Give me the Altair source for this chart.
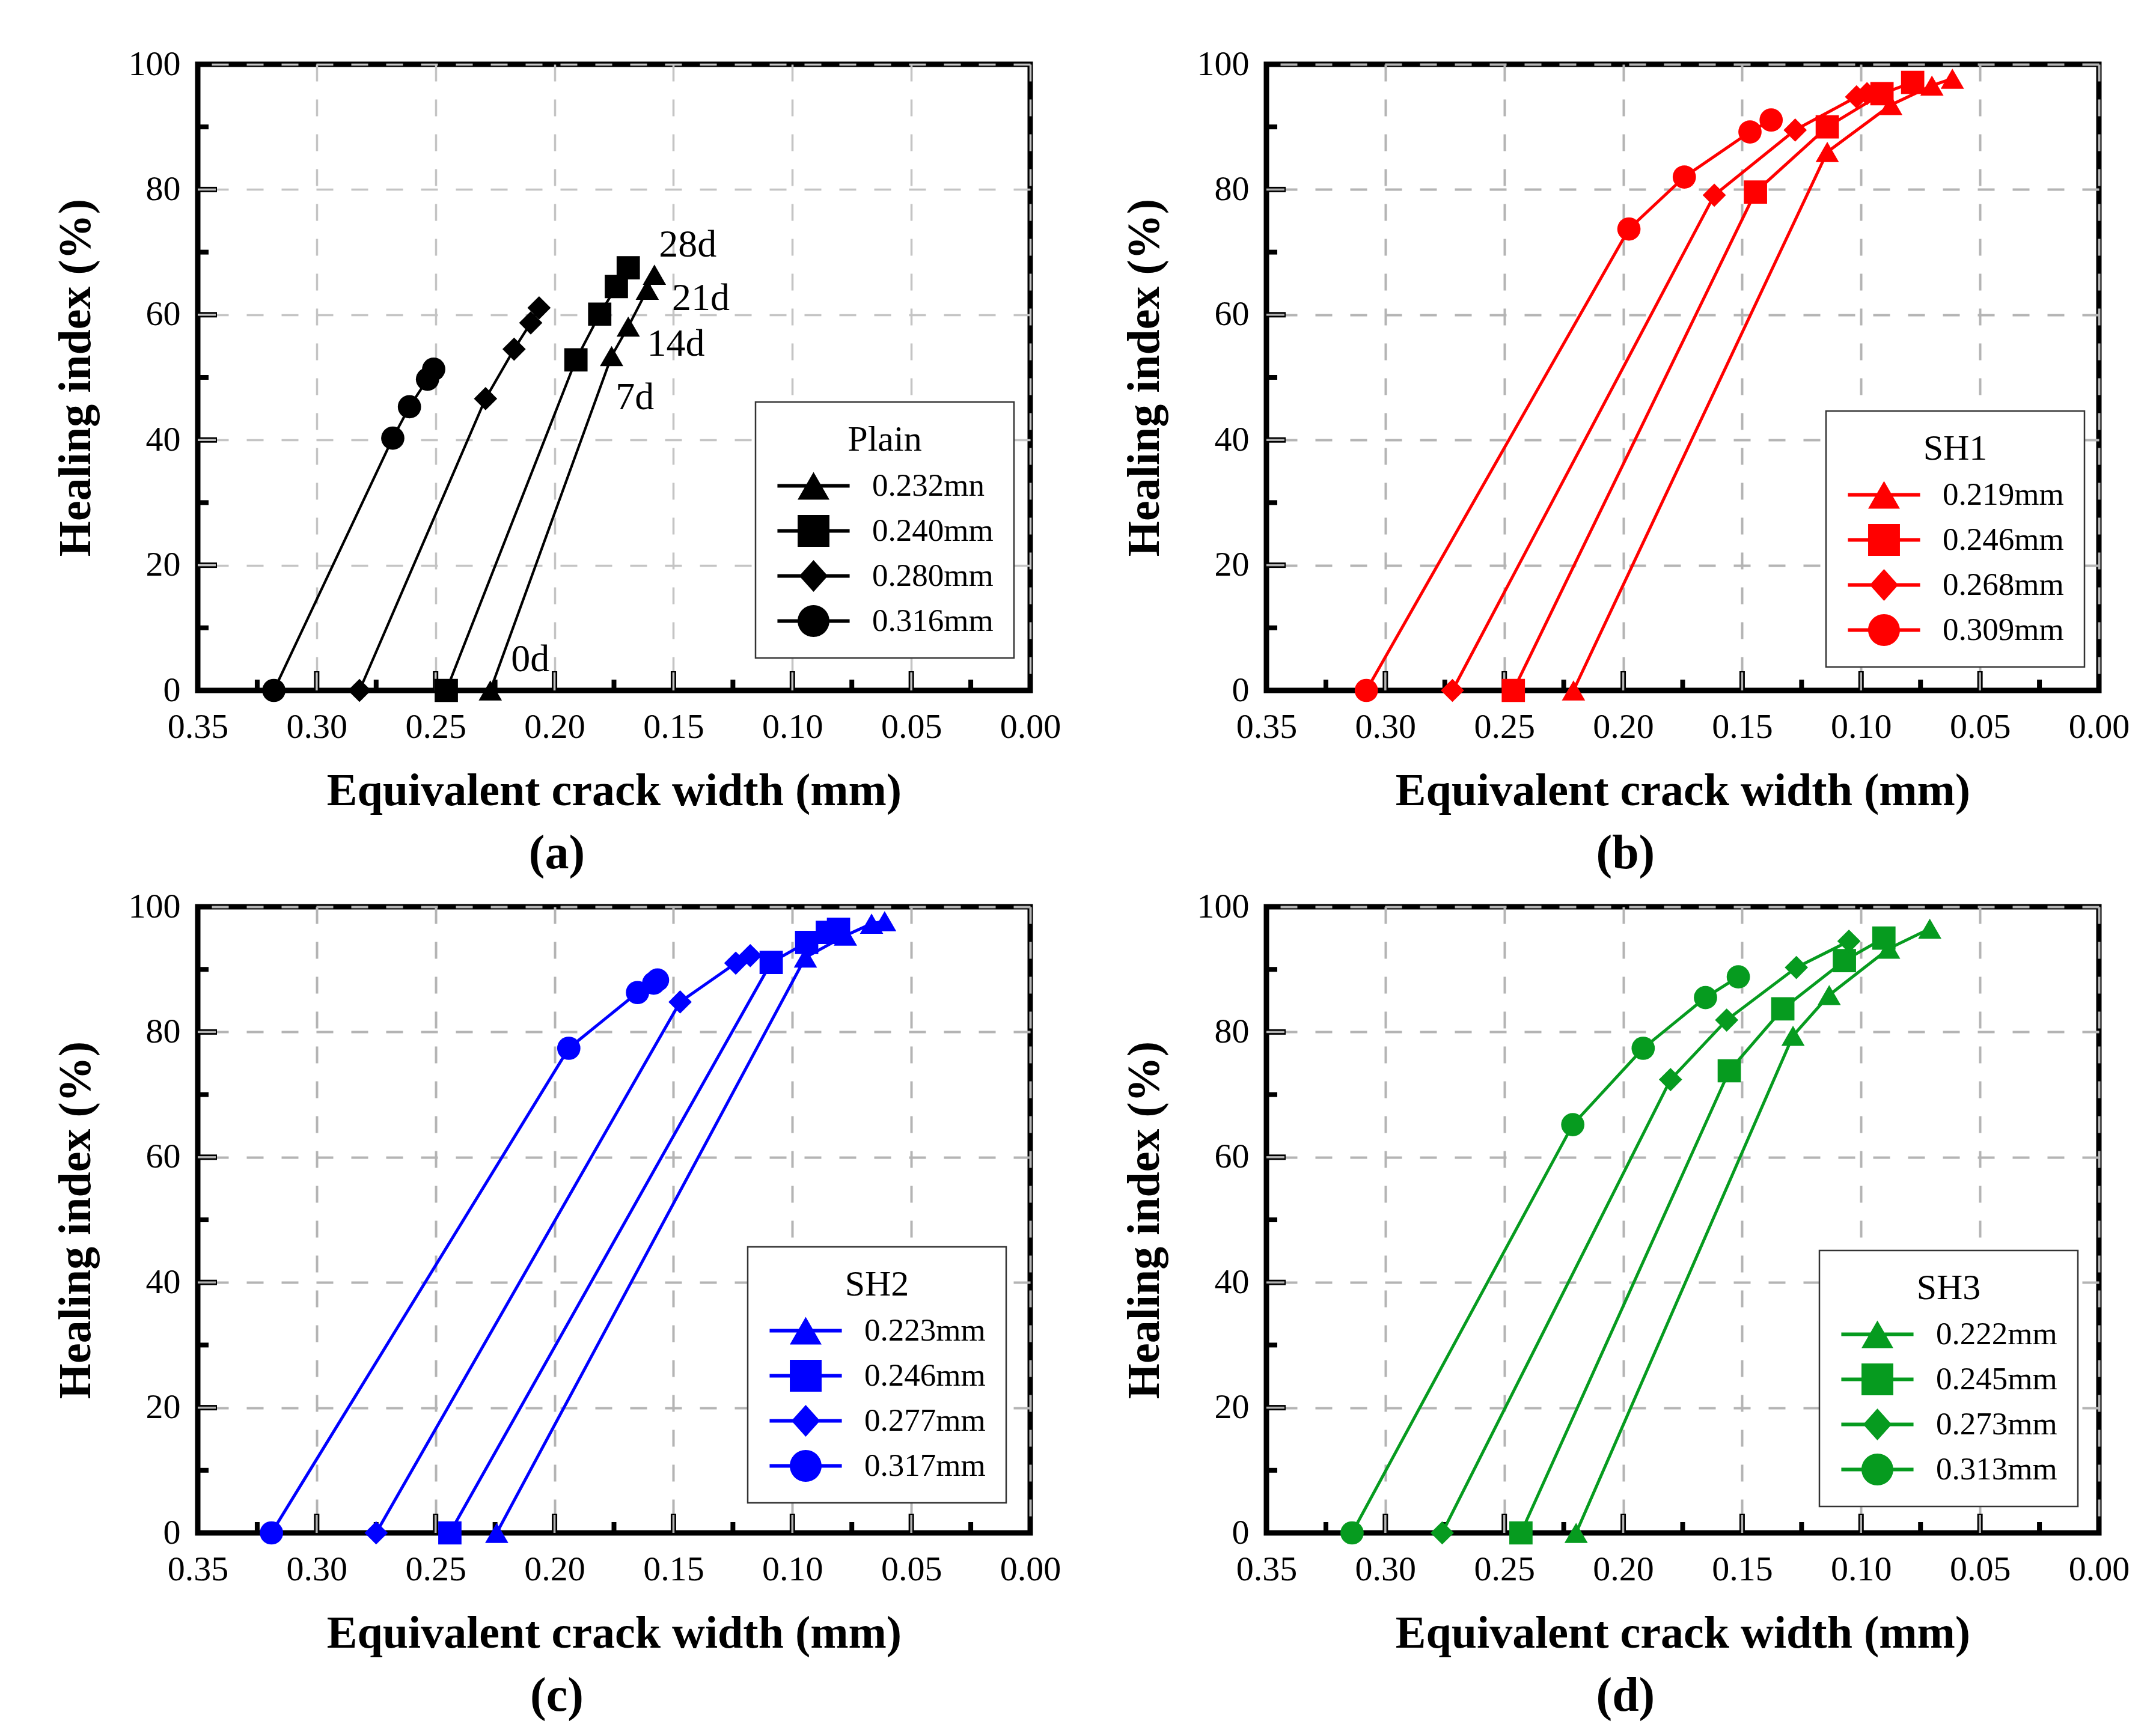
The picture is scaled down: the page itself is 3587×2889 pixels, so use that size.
import altair as alt
import pandas as pd

FONT = "Liberation Serif"
W, H = 1385, 1042

# ---------------- data ----------------
# (a) Plain
plain_labels = ["0.232mn", "0.240mm", "0.280mm", "0.316mm"]
plain_tri_x = [0.227, 0.176, 0.169, 0.161, 0.158]
plain_tri_y = [0, 53.4, 58.1, 64.0, 66.4]
plain_sq_x = [0.2455, 0.191, 0.181, 0.174, 0.169]
plain_sq_y = [0, 52.8, 60.1, 64.5, 67.5]
plain_dia_x = [0.282, 0.229, 0.217, 0.210, 0.2065]
plain_dia_y = [0, 46.6, 54.5, 58.7, 61.1]
plain_cir_x = [0.318, 0.268, 0.261, 0.2534, 0.2508]
plain_cir_y = [0, 40.3, 45.3, 49.7, 51.3]

# (b) SH1
sh1_labels = ["0.219mm", "0.246mm", "0.268mm", "0.309mm"]
sh1_tri_x = [0.2209, 0.1142, 0.0875, 0.0702, 0.0616]
sh1_tri_y = [0, 86.0, 93.5, 96.6, 97.7]
sh1_sq_x = [0.2462, 0.1444, 0.1142, 0.0912, 0.0783]
sh1_sq_y = [0, 79.6, 90.0, 95.3, 97.1]
sh1_dia_x = [0.2718, 0.1617, 0.1277, 0.1019, 0.0975]
sh1_dia_y = [0, 79.1, 89.5, 94.8, 95.3]
sh1_cir_x = [0.308, 0.1976, 0.1743, 0.1467, 0.1378]
sh1_cir_y = [0, 73.7, 82.0, 89.2, 91.1]

# (c) SH2
sh2_labels = ["0.223mm", "0.246mm", "0.277mm", "0.317mm"]
sh2_tri_x = [0.2243, 0.0945, 0.0777, 0.0667, 0.0612]
sh2_tri_y = [0, 91.9, 95.4, 97.3, 97.7]
sh2_sq_x = [0.244, 0.1089, 0.0940, 0.0853, 0.0806]
sh2_sq_y = [0, 91.1, 94.3, 95.9, 96.4]
sh2_dia_x = [0.275, 0.1472, 0.1238, 0.1177]
sh2_dia_y = [0, 84.8, 91.0, 92.2]
sh2_cir_x = [0.319, 0.194, 0.1651, 0.1583, 0.1567]
sh2_cir_y = [0, 77.4, 86.3, 87.8, 88.3]

# (d) SH3
sh3_labels = ["0.222mm", "0.245mm", "0.273mm", "0.313mm"]
sh3_tri_x = [0.2198, 0.1286, 0.1134, 0.0884, 0.0711]
sh3_tri_y = [0, 79.4, 85.9, 93.3, 96.5]
sh3_sq_x = [0.243, 0.1554, 0.1329, 0.1070, 0.0904]
sh3_sq_y = [0, 73.8, 83.7, 91.4, 95.0]
sh3_dia_x = [0.2761, 0.1801, 0.1565, 0.1272, 0.1051]
sh3_dia_y = [0, 72.4, 81.9, 90.3, 94.5]
sh3_cir_x = [0.314, 0.2212, 0.1916, 0.1654, 0.1516]
sh3_cir_y = [0, 65.2, 77.4, 85.5, 88.8]

# healing-age annotations in (a)
day_text = ["28d", "21d", "14d", "7d", "0d"]
day_x = [0.1561, 0.1506, 0.1611, 0.1743, 0.2183]
day_y = [71.1, 62.6, 55.3, 46.7, 4.9]

x_labels = [0.35, 0.30, 0.25, 0.20, 0.15, 0.10, 0.05, 0.00]
y_labels = [0, 20, 40, 60, 80, 100]
x_major = [0.30, 0.25, 0.20, 0.15, 0.10, 0.05]
x_minor = [0.325, 0.275, 0.225, 0.175, 0.125, 0.075, 0.025]
y_major = [20, 40, 60, 80]
y_minor = [10, 30, 50, 70, 90]

# ---------------- styling ----------------
TRI = "M0,-0.866L1,0.866L-1,0.866Z"
DATA_SHAPES = [TRI, "square", "diamond", "circle"]
BAR = "M-2.27,-0.115H2.27V0.115H-2.27Z "
LEG_SHAPES = [
    BAR + "M0,-0.866L1,0.866L-1,0.866Z",
    BAR + "M-1,-1H1V1H-1Z",
    BAR + "M-0.9,0L0,-1L0.9,0L0,1Z",
    BAR + "M-1,0A1,1,0,1,1,1,0A1,1,0,1,1,-1,0Z",
]
XS = alt.Scale(domain=[0, 0.35], reverse=True, nice=False, zero=False)
YS = alt.Scale(domain=[0, 100], nice=False)


def axes(grid_color, grid_w):
    xaxis = alt.Axis(
        values=x_labels, format=".2f", labelFont=FONT, labelFontSize=58, labelColor="black",
        labelPadding=32, labelFlush=False, labelOverlap=False, ticks=False, tickSize=0, domain=False,
        grid=True, gridColor=grid_color, gridWidth=grid_w, gridDash=[28, 30],
        gridOpacity={"condition": {"test": "datum.value > 0.349", "value": 0}, "value": 1},
        titleFont=FONT, titleFontSize=76, titleFontWeight="bold", titleColor="black", titlePadding=40,
    )
    yaxis = alt.Axis(
        values=y_labels, format="d", labelFont=FONT, labelFontSize=58, labelColor="black",
        labelPadding=29, labelFlush=False, labelOverlap=False, ticks=False, tickSize=0, domain=False,
        grid=True, gridColor=grid_color, gridWidth=grid_w, gridDash=[28, 30],
        gridOpacity={"condition": {"test": "datum.value < 0.5", "value": 0}, "value": 1},
        titleFont=FONT, titleFontSize=76, titleFontWeight="bold", titleColor="black", titlePadding=48,
    )
    return xaxis, yaxis


def panel(xs_list, ys_list, labels, ltitle, color, caption, lx, ly, key, line_w=5,
          notes=None, grid_color="#b4b4b4", grid_w=4):
    xaxis, yaxis = axes(grid_color, grid_w)
    rows = []
    for s, (xs, ys) in enumerate(zip(xs_list, ys_list)):
        for i, (xv, yv) in enumerate(zip(xs, ys)):
            rows.append({"x": xv, "y": yv, "s": labels[s], "i": i})
    df = pd.DataFrame(rows)
    base = alt.Chart(df)

    # inward ticks
    tx_min = alt.Chart(pd.DataFrame({"x": x_minor})).mark_rule(color="black", strokeWidth=8).encode(
        x=alt.X("x:Q", scale=XS), y=alt.value(H), y2=alt.value(H - 18))
    tx_maj = alt.Chart(pd.DataFrame({"x": x_major})).mark_rule(color="black", strokeWidth=9).encode(
        x=alt.X("x:Q", scale=XS), y=alt.value(H), y2=alt.value(H - 32))
    tx_maj2 = alt.Chart(pd.DataFrame({"x": x_major})).mark_rule(color=grid_color, strokeWidth=3.5).encode(
        x=alt.X("x:Q", scale=XS), y=alt.value(H), y2=alt.value(H - 30))
    ty_min = alt.Chart(pd.DataFrame({"y": y_minor})).mark_rule(color="black", strokeWidth=8).encode(
        y=alt.Y("y:Q", scale=YS), x=alt.value(0), x2=alt.value(18))
    ty_maj = alt.Chart(pd.DataFrame({"y": y_major})).mark_rule(color="black", strokeWidth=9).encode(
        y=alt.Y("y:Q", scale=YS), x=alt.value(0), x2=alt.value(32))
    ty_maj2 = alt.Chart(pd.DataFrame({"y": y_major})).mark_rule(color=grid_color, strokeWidth=3.5).encode(
        y=alt.Y("y:Q", scale=YS), x=alt.value(0), x2=alt.value(30))

    lines = base.mark_line(color=color, strokeWidth=line_w).encode(
        x=alt.X("x:Q", scale=XS, axis=xaxis, title="Equivalent crack width (mm)"),
        y=alt.Y("y:Q", scale=YS, axis=yaxis, title="Healing index (%)"),
        detail="s:N",
        order="i:Q",
    )
    pts = [
        base.transform_filter(alt.datum.s == labels[k]).mark_point(
            shape=DATA_SHAPES[k], filled=True, size=1500, color=color, opacity=1
        ).encode(x="x:Q", y="y:Q")
        for k in range(4)
    ]
    leg = alt.Chart(pd.DataFrame({key: labels})).transform_filter("false").mark_point(
        filled=True, color=color, opacity=1
    ).encode(
        shape=alt.Shape(
            f"{key}:N",
            scale=alt.Scale(domain=labels, range=LEG_SHAPES),
            legend=alt.Legend(
                title=ltitle, orient="none", legendX=lx, legendY=ly, direction="vertical",
                titleAnchor="middle", titleFont=FONT, titleFontSize=60, titleFontWeight="normal",
                titleColor="black", titlePadding=19,
                labelFont=FONT, labelFontSize=53, labelColor="black", labelOffset=71, labelLimit=0,
                symbolOffset=36, symbolSize=2800, symbolStrokeWidth=0, symbolFillColor=color,
                rowPadding=21, padding=34, strokeColor="#333333", fillColor="white",
            ),
        )
    )
    layers = [tx_min, tx_maj, tx_maj2, ty_min, ty_maj, ty_maj2, lines] + pts + [leg]
    if notes is not None:
        ndf = pd.DataFrame({"x": notes[1], "y": notes[2], "t": notes[0]})
        layers.append(
            alt.Chart(ndf).mark_text(align="left", baseline="middle", font=FONT, fontSize=64, color="black")
            .encode(x="x:Q", y="y:Q", text="t:N")
        )
    return alt.layer(*layers).properties(
        width=W, height=H,
        title=alt.TitleParams(caption, orient="bottom", anchor="middle", frame="bounds", font=FONT,
                              fontSize=80, fontWeight="bold", color="black", offset=28),
    )


pa = panel([plain_tri_x, plain_sq_x, plain_dia_x, plain_cir_x],
           [plain_tri_y, plain_sq_y, plain_dia_y, plain_cir_y],
           plain_labels, "Plain", "#000000", "(a)", 928, 562, "leg_a", line_w=4.2,
           notes=(day_text, day_x, day_y), grid_color="#c4c4c4", grid_w=3.5)
pb = panel([sh1_tri_x, sh1_sq_x, sh1_dia_x, sh1_cir_x],
           [sh1_tri_y, sh1_sq_y, sh1_dia_y, sh1_cir_y],
           sh1_labels, "SH1", "#ff0000", "(b)", 931, 577, "leg_b")
pc = panel([sh2_tri_x, sh2_sq_x, sh2_dia_x, sh2_cir_x],
           [sh2_tri_y, sh2_sq_y, sh2_dia_y, sh2_cir_y],
           sh2_labels, "SH2", "#0000ff", "(c)", 915, 566, "leg_c")
pd_ = panel([sh3_tri_x, sh3_sq_x, sh3_dia_x, sh3_cir_x],
            [sh3_tri_y, sh3_sq_y, sh3_dia_y, sh3_cir_y],
            sh3_labels, "SH3", "#069b1f", "(d)", 920, 572, "leg_d")

chart = (
    alt.concat(pa, pb, pc, pd_, columns=2, spacing={"row": 360, "column": 393}, bounds="flush")
    .resolve_scale(shape="independent")
    .resolve_legend(shape="independent")
    .properties(padding={"left": 75, "top": 65, "right": 10, "bottom": 10}, background="white")
    .configure_view(stroke="black", strokeWidth=9)
    .configure_legend(strokeWidth=2.5)
)

chart.save("out.html", embed_options={"renderer": "svg", "actions": False})
